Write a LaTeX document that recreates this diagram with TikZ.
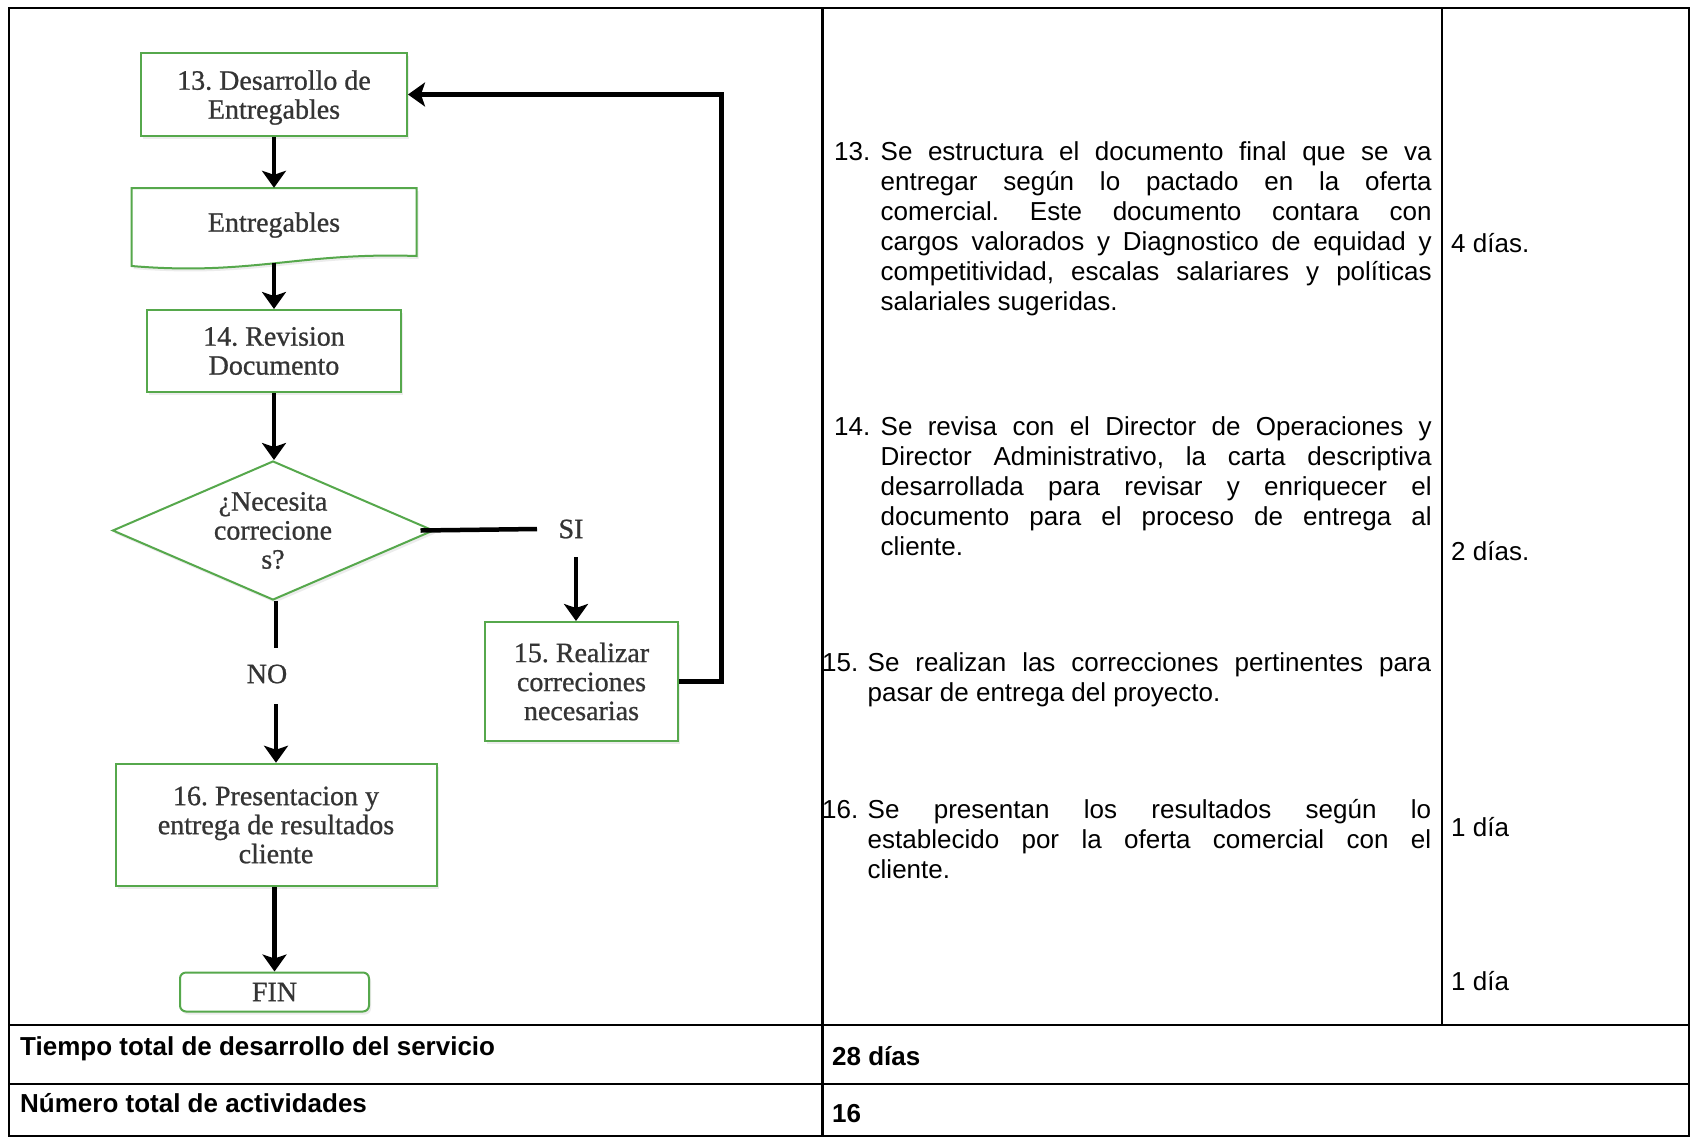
\documentclass[tikz,border=0pt]{standalone}
\usepackage{fontspec}
\setmainfont{Liberation Sans}
\newfontfamily\flowfont[FakeBold=0.8]{Liberation Serif}
\usetikzlibrary{shapes.geometric,arrows.meta,shadows}
\definecolor{boxgreen}{RGB}{86,168,76}
\definecolor{flowgray}{RGB}{52,52,52}
\tolerance=10000
\hbadness=10000
\hyphenpenalty=10000
\frenchspacing

\begin{document}
\begin{tikzpicture}[x=1pt,y=-1pt,
  grid/.style={line width=2.5pt},
  flowtxt/.style={font=\flowfont\fontsize{28}{29}\selectfont, text=flowgray, align=center},
  boxshadow/.style={drop shadow={shadow xshift=2pt, shadow yshift=-3pt, opacity=0.15}},
  stepbox/.style={draw=boxgreen, line width=2pt, fill=white, inner sep=0pt, flowtxt, boxshadow},
  conn/.style={line width=4.5pt},
  arr/.style={conn, -{Stealth[length=17pt,width=24pt,inset=4pt]}},
  body/.style={font=\fontsize{26}{30}\selectfont, inner sep=0pt, anchor=base west, text width=#1, align=justify},
  plain/.style={font=\fontsize{26}{30}\selectfont, inner sep=0pt, anchor=base west},
  boldtxt/.style={font=\bfseries\fontsize{26}{30}\selectfont, inner sep=0pt, anchor=base west},
]
\useasboundingbox (0,0) rectangle (1693,1138);
\fill[white] (0,0) rectangle (1693,1138);

% ---- table frame ----
\draw[grid] (9,8) rectangle (1689,1136);
\draw[grid] (822.5,8) -- (822.5,1136);
\draw[grid] (9,1025) -- (1689,1025);
\draw[grid] (9,1084) -- (1689,1084);
\draw[line width=2pt] (1442,8) -- (1442,1025);

% ---- flowchart ----
\node[stepbox, text depth=0pt, minimum width=266pt, minimum height=83pt] (n13) at (274,94.5) {13. Desarrollo de\\Entregables};

\filldraw[draw=boxgreen, line width=2pt, fill=white, boxshadow]
  (131.5,188) -- (416.5,188) -- (416.5,256)
  .. controls (300,252) and (250,276) .. (131.5,266) -- cycle;
\node[flowtxt, inner sep=0pt, text depth=0pt, minimum width=285pt, minimum height=68pt] (ent) at (274,222) {Entregables};
\coordinate (ent-out) at (274,263);

\node[stepbox, minimum width=254pt, minimum height=82pt] (n14) at (274,351) {14. Revision\\Documento};
\node[stepbox, shape=diamond, aspect=2.31, minimum width=321pt, minimum height=139pt] (dec) at (273,530.5) {¿Necesita\\correcione\\s?};
\node[stepbox, minimum width=192.5pt, minimum height=119pt] (n15) at (581.5,681.5) {15. Realizar\\correciones\\necesarias};
\node[stepbox, minimum width=321pt, minimum height=122.5pt] (n16) at (276,825) {16. Presentacion y\\entrega de resultados\\cliente};
\node[stepbox, rounded corners=6pt, minimum width=189pt, minimum height=39pt] (fin) at (274.5,992) {FIN};

\node[flowtxt, inner sep=0pt] (si) at (571,529) {SI};
\node[flowtxt, inner sep=0pt] (no) at (267,674) {NO};

\coordinate (si-end) at (537,529);
\coordinate (si-drop) at (576,557);
\coordinate (no-top) at (276,648);
\coordinate (no-drop) at (276,704);

\draw[arr] (n13.south) -- (n13.south |- ent.north);
\draw[arr] (ent-out) -- (ent-out |- n14.north);
\draw[arr] (n14.south) -- (n14.south |- dec.north);
\draw[conn] ([xshift=-14pt]dec.east) -- (si-end);
\draw[arr] (si-drop) -- (si-drop |- n15.north);
\draw[conn] (dec.south -| no-top) -- (no-top);
\draw[arr] (no-drop) -- (no-drop |- n16.north);
\draw[arr] (n16.south -| fin.north) -- (fin.north);
\draw[arr] (n15.east) -- ++(42.5,0) |- (n13.east);

% ---- descriptions ----
\node[plain] (l13) at (834,160) {13.};
\node[body=551pt] (t13) at (880.5,160) {Se estructura el documento final que se va\linebreak entregar según lo pactado en la oferta\linebreak comercial. Este documento contara con\linebreak cargos valorados y Diagnostico de equidad y\linebreak competitividad, escalas salariares y políticas\linebreak salariales sugeridas.};

\node[plain] (l14) at (834,435) {14.};
\node[body=551pt] (t14) at (880.5,435) {Se revisa con el Director de Operaciones y\linebreak Director Administrativo, la carta descriptiva\linebreak desarrollada para revisar y enriquecer el\linebreak documento para el proceso de entrega al\linebreak cliente.};

\node[plain] (l15) at (822,671) {15.};
\node[body=563.5pt] (t15) at (867.5,671) {Se realizan las correcciones pertinentes para\linebreak pasar de entrega del proyecto.};

\node[plain] (l16) at (822,818) {16.};
\node[body=563.5pt] (t16) at (867.5,818) {Se presentan los resultados según lo\linebreak establecido por la oferta comercial con el\linebreak cliente.};

% ---- durations ----
\node[plain] (d13) at (1451,252) {4 días.};
\node[plain] (d14) at (1451,560) {2 días.};
\node[plain] (d16) at (1451,836) {1 día};
\node[plain] (dfin) at (1451,990) {1 día};

% ---- totals ----
\node[boldtxt] (tt) at (20,1055) {Tiempo total de desarrollo del servicio};
\node[boldtxt] (tv) at (832,1065) {28 días};
\node[boldtxt] (nt) at (20,1112) {Número total de actividades};
\node[boldtxt] (nv) at (832,1122) {16};
\end{tikzpicture}
\end{document}
